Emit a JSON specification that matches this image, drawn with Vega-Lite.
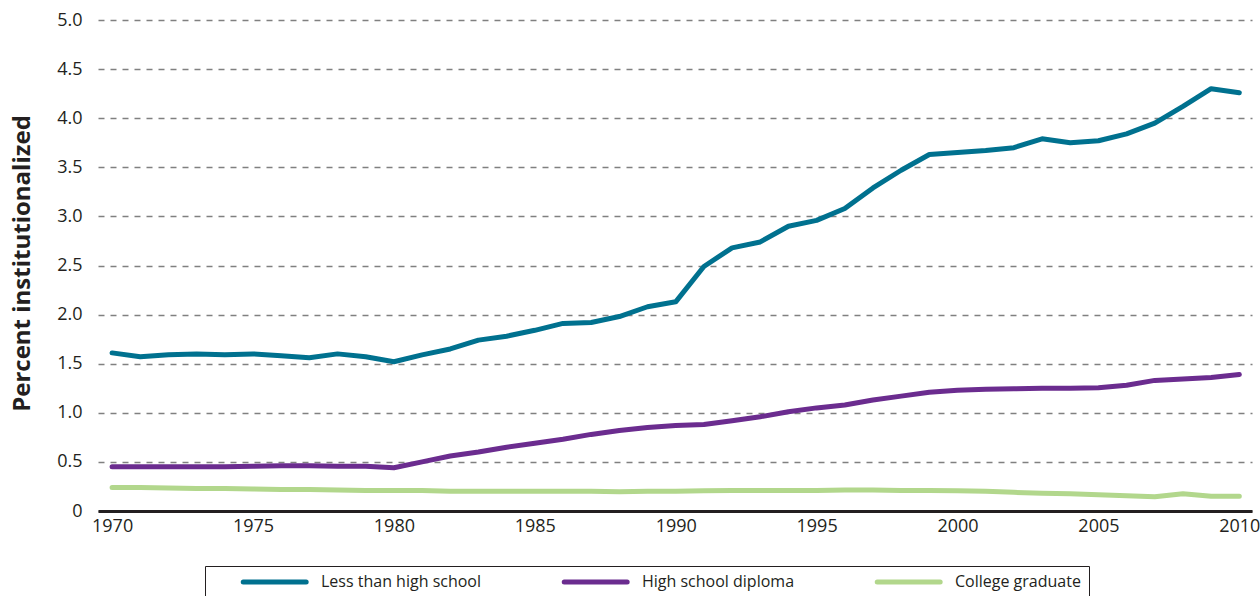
{
  "$schema": "https://vega.github.io/schema/vega-lite/v6.json",
  "width": 1154,
  "height": 491,
  "autosize": "none",
  "padding": {"left": 98, "top": 20, "right": 8, "bottom": 85},
  "background": "white",
  "config": {
    "font": "Open Sans",
    "view": {"stroke": null}
  },
  "data": {
    "values": [
      {"year": 1970, "series": "Less than high school", "value": 1.61},
      {"year": 1971, "series": "Less than high school", "value": 1.57},
      {"year": 1972, "series": "Less than high school", "value": 1.59},
      {"year": 1973, "series": "Less than high school", "value": 1.60},
      {"year": 1974, "series": "Less than high school", "value": 1.59},
      {"year": 1975, "series": "Less than high school", "value": 1.60},
      {"year": 1976, "series": "Less than high school", "value": 1.58},
      {"year": 1977, "series": "Less than high school", "value": 1.56},
      {"year": 1978, "series": "Less than high school", "value": 1.60},
      {"year": 1979, "series": "Less than high school", "value": 1.57},
      {"year": 1980, "series": "Less than high school", "value": 1.52},
      {"year": 1981, "series": "Less than high school", "value": 1.59},
      {"year": 1982, "series": "Less than high school", "value": 1.65},
      {"year": 1983, "series": "Less than high school", "value": 1.74},
      {"year": 1984, "series": "Less than high school", "value": 1.78},
      {"year": 1985, "series": "Less than high school", "value": 1.84},
      {"year": 1986, "series": "Less than high school", "value": 1.91},
      {"year": 1987, "series": "Less than high school", "value": 1.92},
      {"year": 1988, "series": "Less than high school", "value": 1.98},
      {"year": 1989, "series": "Less than high school", "value": 2.08},
      {"year": 1990, "series": "Less than high school", "value": 2.13},
      {"year": 1991, "series": "Less than high school", "value": 2.49},
      {"year": 1992, "series": "Less than high school", "value": 2.68},
      {"year": 1993, "series": "Less than high school", "value": 2.74},
      {"year": 1994, "series": "Less than high school", "value": 2.90},
      {"year": 1995, "series": "Less than high school", "value": 2.96},
      {"year": 1996, "series": "Less than high school", "value": 3.08},
      {"year": 1997, "series": "Less than high school", "value": 3.29},
      {"year": 1998, "series": "Less than high school", "value": 3.47},
      {"year": 1999, "series": "Less than high school", "value": 3.63},
      {"year": 2000, "series": "Less than high school", "value": 3.65},
      {"year": 2001, "series": "Less than high school", "value": 3.67},
      {"year": 2002, "series": "Less than high school", "value": 3.70},
      {"year": 2003, "series": "Less than high school", "value": 3.79},
      {"year": 2004, "series": "Less than high school", "value": 3.75},
      {"year": 2005, "series": "Less than high school", "value": 3.77},
      {"year": 2006, "series": "Less than high school", "value": 3.84},
      {"year": 2007, "series": "Less than high school", "value": 3.95},
      {"year": 2008, "series": "Less than high school", "value": 4.12},
      {"year": 2009, "series": "Less than high school", "value": 4.30},
      {"year": 2010, "series": "Less than high school", "value": 4.26},
      {"year": 1970, "series": "High school diploma", "value": 0.45},
      {"year": 1971, "series": "High school diploma", "value": 0.45},
      {"year": 1972, "series": "High school diploma", "value": 0.45},
      {"year": 1973, "series": "High school diploma", "value": 0.45},
      {"year": 1974, "series": "High school diploma", "value": 0.45},
      {"year": 1975, "series": "High school diploma", "value": 0.455},
      {"year": 1976, "series": "High school diploma", "value": 0.46},
      {"year": 1977, "series": "High school diploma", "value": 0.46},
      {"year": 1978, "series": "High school diploma", "value": 0.455},
      {"year": 1979, "series": "High school diploma", "value": 0.455},
      {"year": 1980, "series": "High school diploma", "value": 0.44},
      {"year": 1981, "series": "High school diploma", "value": 0.50},
      {"year": 1982, "series": "High school diploma", "value": 0.56},
      {"year": 1983, "series": "High school diploma", "value": 0.60},
      {"year": 1984, "series": "High school diploma", "value": 0.65},
      {"year": 1985, "series": "High school diploma", "value": 0.69},
      {"year": 1986, "series": "High school diploma", "value": 0.73},
      {"year": 1987, "series": "High school diploma", "value": 0.78},
      {"year": 1988, "series": "High school diploma", "value": 0.82},
      {"year": 1989, "series": "High school diploma", "value": 0.85},
      {"year": 1990, "series": "High school diploma", "value": 0.87},
      {"year": 1991, "series": "High school diploma", "value": 0.88},
      {"year": 1992, "series": "High school diploma", "value": 0.92},
      {"year": 1993, "series": "High school diploma", "value": 0.96},
      {"year": 1994, "series": "High school diploma", "value": 1.01},
      {"year": 1995, "series": "High school diploma", "value": 1.05},
      {"year": 1996, "series": "High school diploma", "value": 1.08},
      {"year": 1997, "series": "High school diploma", "value": 1.13},
      {"year": 1998, "series": "High school diploma", "value": 1.17},
      {"year": 1999, "series": "High school diploma", "value": 1.21},
      {"year": 2000, "series": "High school diploma", "value": 1.23},
      {"year": 2001, "series": "High school diploma", "value": 1.24},
      {"year": 2002, "series": "High school diploma", "value": 1.245},
      {"year": 2003, "series": "High school diploma", "value": 1.25},
      {"year": 2004, "series": "High school diploma", "value": 1.25},
      {"year": 2005, "series": "High school diploma", "value": 1.255},
      {"year": 2006, "series": "High school diploma", "value": 1.28},
      {"year": 2007, "series": "High school diploma", "value": 1.33},
      {"year": 2008, "series": "High school diploma", "value": 1.345},
      {"year": 2009, "series": "High school diploma", "value": 1.36},
      {"year": 2010, "series": "High school diploma", "value": 1.39},
      {"year": 1970, "series": "College graduate", "value": 0.24},
      {"year": 1971, "series": "College graduate", "value": 0.24},
      {"year": 1972, "series": "College graduate", "value": 0.235},
      {"year": 1973, "series": "College graduate", "value": 0.23},
      {"year": 1974, "series": "College graduate", "value": 0.23},
      {"year": 1975, "series": "College graduate", "value": 0.225},
      {"year": 1976, "series": "College graduate", "value": 0.22},
      {"year": 1977, "series": "College graduate", "value": 0.22},
      {"year": 1978, "series": "College graduate", "value": 0.215},
      {"year": 1979, "series": "College graduate", "value": 0.21},
      {"year": 1980, "series": "College graduate", "value": 0.21},
      {"year": 1981, "series": "College graduate", "value": 0.21},
      {"year": 1982, "series": "College graduate", "value": 0.20},
      {"year": 1983, "series": "College graduate", "value": 0.20},
      {"year": 1984, "series": "College graduate", "value": 0.20},
      {"year": 1985, "series": "College graduate", "value": 0.20},
      {"year": 1986, "series": "College graduate", "value": 0.20},
      {"year": 1987, "series": "College graduate", "value": 0.20},
      {"year": 1988, "series": "College graduate", "value": 0.195},
      {"year": 1989, "series": "College graduate", "value": 0.20},
      {"year": 1990, "series": "College graduate", "value": 0.20},
      {"year": 1991, "series": "College graduate", "value": 0.205},
      {"year": 1992, "series": "College graduate", "value": 0.21},
      {"year": 1993, "series": "College graduate", "value": 0.21},
      {"year": 1994, "series": "College graduate", "value": 0.21},
      {"year": 1995, "series": "College graduate", "value": 0.21},
      {"year": 1996, "series": "College graduate", "value": 0.215},
      {"year": 1997, "series": "College graduate", "value": 0.215},
      {"year": 1998, "series": "College graduate", "value": 0.21},
      {"year": 1999, "series": "College graduate", "value": 0.21},
      {"year": 2000, "series": "College graduate", "value": 0.205},
      {"year": 2001, "series": "College graduate", "value": 0.20},
      {"year": 2002, "series": "College graduate", "value": 0.19},
      {"year": 2003, "series": "College graduate", "value": 0.18},
      {"year": 2004, "series": "College graduate", "value": 0.175},
      {"year": 2005, "series": "College graduate", "value": 0.165},
      {"year": 2006, "series": "College graduate", "value": 0.155},
      {"year": 2007, "series": "College graduate", "value": 0.145},
      {"year": 2008, "series": "College graduate", "value": 0.175},
      {"year": 2009, "series": "College graduate", "value": 0.15},
      {"year": 2010, "series": "College graduate", "value": 0.15}
    ]
  },
  "mark": {"type": "line", "strokeWidth": 5, "strokeCap": "round", "strokeJoin": "round"},
  "encoding": {
    "x": {
      "field": "year",
      "type": "quantitative",
      "scale": {"domain": [1969.5, 2010.45], "nice": false, "zero": false},
      "axis": {
        "values": [1970, 1975, 1980, 1985, 1990, 1995, 2000, 2005, 2010],
        "format": "d",
        "title": null,
        "grid": false,
        "ticks": false,
        "labelPadding": 6,
        "labelFontSize": 18,
        "labelColor": "#231F20",
        "domainColor": "#231F20",
        "domainWidth": 3
      }
    },
    "y": {
      "field": "value",
      "type": "quantitative",
      "scale": {"domain": [0, 5], "nice": false},
      "axis": {
        "values": [0, 0.5, 1, 1.5, 2, 2.5, 3, 3.5, 4, 4.5, 5],
        "labelExpr": "datum.value == 0 ? '0' : format(datum.value, '.1f')",
        "title": "Percent institutionalized",
        "titleFontSize": 24,
        "titleFontWeight": "bold",
        "titleColor": "#231F20",
        "titleX": -76,
        "titleY": 243,
        "titleAngle": -90,
        "titleAlign": "center",
        "titleBaseline": "middle",
        "grid": true,
        "gridDash": [6, 6],
        "gridColor": "#808080",
        "gridWidth": 1.5,
        "domain": false,
        "ticks": false,
        "labelPadding": 16,
        "labelFontSize": 18,
        "labelColor": "#231F20"
      }
    },
    "color": {
      "field": "series",
      "type": "nominal",
      "scale": {
        "domain": ["Less than high school", "High school diploma", "College graduate"],
        "range": ["#00718F", "#6B2C8F", "#B2D78C"]
      },
      "legend": {
        "title": null,
        "orient": "none",
        "direction": "horizontal",
        "columns": 3,
        "gridAlign": "each",
        "legendX": 107,
        "legendY": 546,
        "padding": 8,
        "strokeColor": "#231F20",
        "symbolType": "M4.24,0H16.24",
        "symbolSize": 110,
        "symbolStrokeWidth": 5,
        "labelFontSize": 16,
        "labelColor": "#231F20",
        "labelOffset": 92,
        "columnPadding": 52,
        "labelLimit": 400,
        "encode": {
          "symbols": {"update": {"strokeCap": {"value": "round"}}}
        }
      }
    }
  }
}
